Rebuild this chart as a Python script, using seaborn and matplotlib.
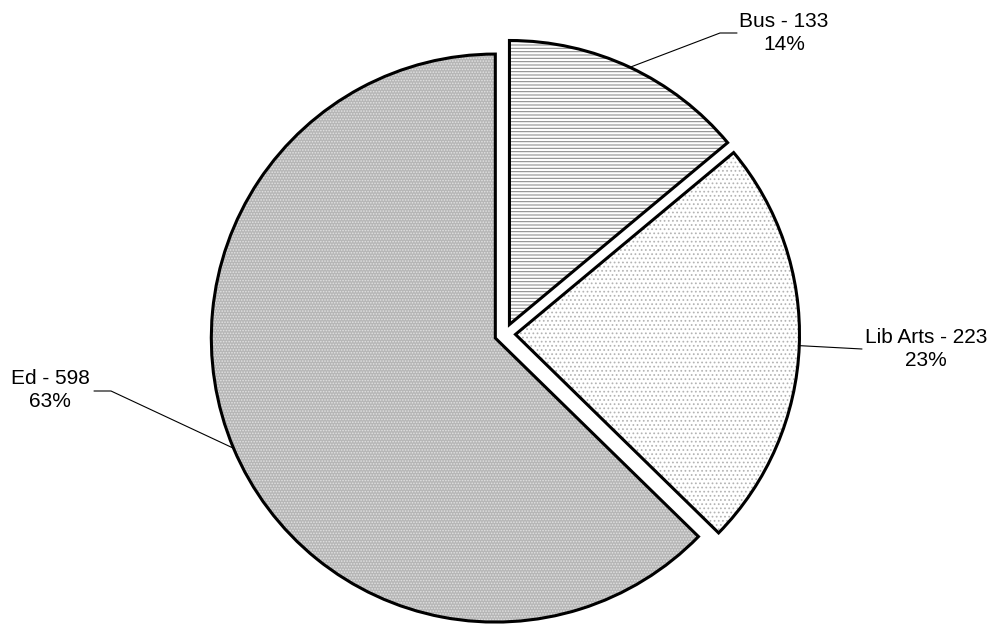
import numpy as np
import matplotlib
matplotlib.use("Agg")
import matplotlib.pyplot as plt
import seaborn as sns

# enrolment by department
departments = ["Bus", "Lib Arts", "Ed"]
counts = [133, 223, 598]

sns.set_style("white")
plt.rcParams['font.family'] = ['Liberation Sans', 'DejaVu Sans']
plt.rcParams['hatch.linewidth'] = 0.75

W, H = 998, 624
fig = plt.figure(figsize=(W / 100, H / 100), dpi=100)
ax = fig.add_axes([0, 0, 1, 1])

# axes in pixel units (y up)
center = (505, H - 334)
radius = 284
explode = [10.5] * len(counts)  # pie offsets are in data units here

face = ['white', 'white', '#b6b6b6']
hatches = ['-----', '....', '......']
hatch_cols = ['#888888', '#b4b4b4', '#e2e2e2']

# fill + hatch layer
wedges, _ = ax.pie(counts, explode=explode, startangle=90, counterclock=False,
                   radius=radius, center=center, colors=face,
                   wedgeprops=dict(linewidth=0))
for w, h, hc in zip(wedges, hatches, hatch_cols):
    w.set_hatch(h)
    w.set_edgecolor(hc)
    w.set_linewidth(0)

# black outline layer
outline, _ = ax.pie(counts, explode=explode, startangle=90, counterclock=False,
                    radius=radius, center=center,
                    wedgeprops=dict(fill=False, edgecolor='black', linewidth=2.2))

# label layout: (elbow point or None, line end, text centre) in pixels from top-left
layout = {
    "Bus": ((720, 33), (737, 33), (784, 33)),
    "Lib Arts": (None, (862, 349), (926, 349)),
    "Ed": ((111, 391), (94, 391), (50, 390)),
}

total = sum(counts)
for w, name, c in zip(outline, departments, counts):
    ang = np.deg2rad((w.theta1 + w.theta2) / 2)
    cx, cy = w.center
    start = (cx + w.r * np.cos(ang), cy + w.r * np.sin(ang))
    elbow, end, txt = layout[name]
    pts = [start]
    if elbow is not None:
        pts.append((elbow[0], H - elbow[1]))
    pts.append((end[0], H - end[1]))
    xs, ys = zip(*pts)
    ax.plot(xs, ys, color='black', linewidth=0.8)
    pct = round(100 * c / total)
    ax.text(txt[0], H - txt[1], f"{name} - {c}\n{pct}%", ha='center', va='center',
            multialignment='center', fontsize=15, linespacing=1.3, color='black')

ax.set_xlim(0, W)
ax.set_ylim(0, H)
ax.set_aspect('auto')
ax.axis('off')

fig.savefig('out.png', dpi=100)
